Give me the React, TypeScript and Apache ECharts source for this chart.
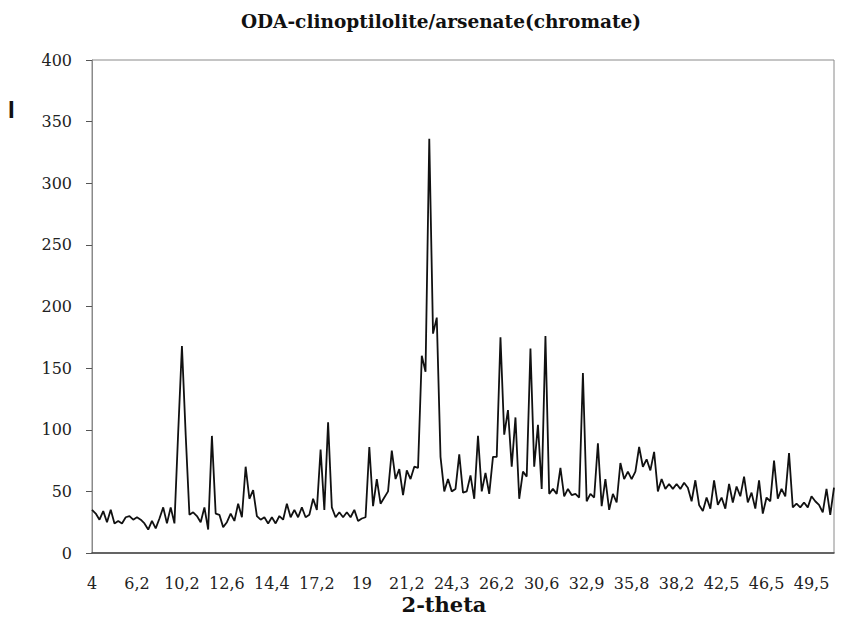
import React, { useEffect, useRef } from "react";
import * as echarts from "echarts";

const tickLabels = ["4", "6,2", "10,2", "12,6", "14,4", "17,2", "19", "21,2", "24,3", "26,2", "30,6", "32,9", "35,8", "38,2", "42,5", "46,5", "49,5"];
const labelEvery = 12;
const yTicks = [0, 50, 100, 150, 200, 250, 300, 350, 400];

const intensity = [
  35, 32, 27, 34, 25, 35, 24, 26, 24, 29,
  30, 27, 29, 27, 24, 19, 26, 20, 28, 37,
  24, 37, 24, 98, 168, 96, 31, 33, 30, 25,
  37, 19, 95, 32, 31, 21, 25, 32, 26, 40,
  29, 70, 44, 51, 30, 27, 29, 24, 29, 24,
  30, 27, 40, 29, 35, 29, 37, 29, 31, 44,
  35, 84, 35, 106, 37, 29, 33, 29, 33, 29,
  35, 26, 28, 29, 86, 38, 60, 40, 45, 50,
  83, 60, 68, 47, 67, 60, 70, 69, 160, 147,
  336, 178, 191, 78, 50, 60, 50, 52, 80, 49,
  50, 63, 44, 95, 50, 65, 48, 78, 78, 175,
  96, 116, 70, 110, 44, 66, 62, 166, 70, 104,
  52, 176, 48, 52, 48, 69, 46, 52, 47, 48,
  45, 146, 42, 48, 45, 89, 38, 60, 35, 48,
  41, 73, 60, 66, 60, 66, 86, 70, 76, 67,
  82, 50, 60, 52, 56, 52, 56, 52, 57, 53,
  42, 59, 39, 34, 45, 36, 59, 39, 45, 36,
  56, 41, 54, 46, 62, 41, 49, 36, 59, 32,
  45, 42, 75, 44, 52, 46, 81, 37, 40, 37,
  41, 37, 46, 42, 39, 33, 52, 31, 53,
];

const categories = intensity.map((_, i) => String(i));

export default function App() {
  const ref = useRef<HTMLDivElement>(null);
  useEffect(() => {
    if (!ref.current) return;
    const chart = echarts.init(ref.current, null, { renderer: "svg" });
    const serif = "DejaVu Serif";
    chart.setOption({
      animation: false,
      backgroundColor: "#ffffff",
      textStyle: { fontFamily: serif },
      grid: {
        left: 92,
        right: 15,
        top: 60,
        bottom: 75,
        show: true,
        borderColor: "#8a8a8a",
        borderWidth: 1,
      },
      graphic: [
        {
          type: "text",
          x: 441,
          y: 21,
          style: {
            text: "ODA-clinoptilolite/arsenate(chromate)",
            font: `bold 18.5px ${serif}`,
            fill: "#111",
            align: "center",
            verticalAlign: "middle",
          },
        },
        {
          type: "text",
          x: 8,
          y: 97,
          style: {
            text: "I",
            font: "bold 24px Liberation Sans",
            fill: "#111",
          },
        },
        {
          type: "text",
          x: 444,
          y: 604,
          style: {
            text: "2-theta",
            font: `bold 21px ${serif}`,
            fill: "#111",
            align: "center",
            verticalAlign: "middle",
          },
        },
      ],
      xAxis: {
        type: "category",
        data: categories,
        boundaryGap: false,
        axisLine: { show: true, lineStyle: { color: "#444", width: 1.5 } },
        axisTick: { show: false },
        splitLine: { show: false },
        axisLabel: {
          interval: labelEvery - 1,
          margin: 22,
          fontFamily: serif,
          fontSize: 16,
          color: "#222",
          formatter: (_v: string, idx: number) =>
            idx % labelEvery === 0 ? tickLabels[idx / labelEvery] ?? "" : "",
        },
      },
      yAxis: {
        type: "value",
        min: yTicks[0],
        max: yTicks[yTicks.length - 1],
        interval: 50,
        axisLine: { show: true, lineStyle: { color: "#8a8a8a", width: 1 } },
        axisTick: { show: true, inside: false, length: 6, lineStyle: { color: "#555" } },
        splitLine: { show: false },
        axisLabel: {
          margin: 20,
          fontFamily: serif,
          fontSize: 16,
          color: "#222",
        },
      },
      series: [
        {
          type: "line",
          data: intensity,
          symbol: "none",
          lineStyle: { color: "#111", width: 1.8 },
          silent: true,
        },
      ],
    });
    return () => chart.dispose();
  }, []);
  return (
    <div
      ref={ref}
      style={{ position: "fixed", left: 0, top: 0, width: 849, height: 628 }}
    />
  );
}
